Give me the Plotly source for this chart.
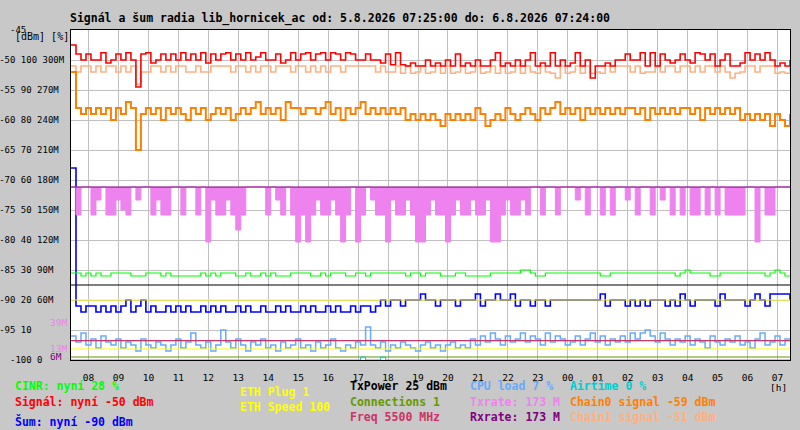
import pandas as pd
import plotly.graph_objects as go

# ---------------- data (10-minute samples, 05.08.2026 07:25 -> 06.08.2026 07:25) ----------------
START = "2026-08-05 07:25"
END = "2026-08-06 07:25"
N = 145

signal = [  # Signal [dBm]
    -47.5, -49.0, -50.0, -49.0, -50.0, -50.0, -48.8, -50.5, -50.0, -49.0,
    -50.0, -48.8, -50.0, -54.5, -49.0, -48.8, -50.5, -50.0, -49.0, -50.0,
    -49.0, -50.0, -48.8, -50.0, -49.0, -50.0, -48.8, -50.5, -49.0, -50.0,
    -49.0, -48.8, -50.0, -49.0, -50.0, -48.8, -50.0, -49.5, -48.8, -50.0,
    -50.0, -49.0, -50.5, -50.0, -48.8, -50.0, -49.0, -48.8, -50.0, -49.0,
    -48.8, -50.0, -48.8, -49.0, -50.0, -48.8, -49.0, -50.0, -50.0, -49.0,
    -50.0, -50.0, -50.5, -49.0, -50.8, -48.8, -50.8, -51.0, -50.5, -51.0,
    -51.0, -50.0, -51.0, -50.5, -51.0, -50.0, -51.0, -49.0, -51.0, -50.5,
    -51.0, -50.0, -51.0, -51.0, -50.0, -48.8, -51.0, -50.5, -51.0, -50.0,
    -51.0, -50.0, -48.8, -51.0, -50.5, -51.0, -48.8, -51.0, -50.0, -51.0,
    -50.5, -48.8, -51.0, -50.0, -53.0, -51.0, -51.0, -50.5, -51.0, -50.0,
    -50.0, -49.0, -50.0, -50.0, -48.8, -51.0, -48.8, -51.0, -49.0, -50.0,
    -50.5, -50.0, -49.0, -50.0, -50.5, -48.8, -49.0, -50.0, -49.0, -51.0,
    -50.0, -49.0, -51.0, -51.0, -50.5, -48.8, -50.0, -49.0, -50.0, -48.8,
    -50.0, -51.0, -50.5, -51.0, -50.0,
]

chain1 = [  # Chain1 signal [dBm]
    -51.0, -52.0, -51.0, -51.0, -52.0, -51.0, -52.0, -51.0, -51.0, -52.0,
    -51.0, -52.0, -51.0, -54.0, -52.0, -52.0, -51.0, -51.0, -52.0, -51.0,
    -52.0, -51.0, -51.0, -52.0, -52.0, -51.0, -52.0, -52.0, -51.0, -51.0,
    -51.0, -51.0, -52.0, -51.0, -51.0, -52.0, -51.0, -52.0, -51.0, -51.0,
    -52.0, -51.0, -51.0, -51.0, -52.0, -51.0, -51.0, -52.0, -51.0, -52.0,
    -51.0, -52.0, -51.0, -51.0, -52.0, -51.0, -51.0, -51.0, -51.0, -51.0,
    -51.0, -52.0, -51.0, -52.0, -52.0, -51.0, -52.2, -51.0, -52.2, -52.0,
    -51.0, -52.2, -52.0, -51.0, -52.2, -51.0, -52.2, -52.0, -51.0, -52.2,
    -52.0, -51.0, -52.2, -52.0, -51.0, -52.2, -51.0, -52.2, -52.0, -51.0,
    -52.2, -51.0, -52.0, -52.2, -51.0, -52.0, -52.2, -53.0, -51.0, -52.2,
    -52.0, -51.0, -52.2, -51.0, -52.2, -52.0, -52.2, -51.0, -52.0, -51.0,
    -51.0, -51.0, -52.0, -51.0, -52.2, -52.0, -52.0, -51.0, -52.0, -51.0,
    -51.0, -52.0, -51.0, -51.0, -52.0, -51.0, -52.0, -51.0, -51.0, -52.0,
    -51.0, -52.0, -53.0, -52.2, -52.0, -51.0, -51.0, -52.0, -51.0, -51.0,
    -51.0, -52.2, -52.0, -52.2, -51.0,
]

chain0 = [  # Chain0 signal [dBm]
    -52.0, -58.0, -59.0, -58.0, -59.0, -58.0, -59.0, -58.0, -60.0, -58.0,
    -59.0, -57.0, -58.0, -65.0, -59.0, -58.0, -59.0, -58.0, -60.0, -58.0,
    -59.0, -58.0, -59.0, -60.0, -58.0, -59.0, -58.0, -60.0, -59.0, -58.0,
    -59.0, -58.0, -60.0, -59.0, -58.0, -59.0, -58.0, -57.0, -59.0, -58.0,
    -59.0, -58.0, -60.0, -57.0, -58.0, -58.0, -59.0, -58.0, -58.0, -59.0,
    -58.0, -57.0, -59.0, -58.0, -60.0, -58.0, -59.0, -58.0, -57.0, -59.0,
    -58.0, -59.0, -58.0, -59.0, -58.0, -59.0, -58.0, -60.0, -59.0, -60.0,
    -59.0, -60.0, -59.0, -60.0, -61.0, -59.0, -60.0, -59.0, -60.0, -59.0,
    -60.0, -58.0, -59.0, -61.0, -60.0, -59.0, -60.0, -58.0, -59.0, -60.0,
    -59.0, -58.0, -59.0, -60.0, -58.0, -59.0, -58.0, -57.0, -59.0, -58.0,
    -59.0, -58.0, -60.0, -58.0, -59.0, -58.0, -59.0, -58.0, -59.0, -58.0,
    -59.0, -58.0, -58.0, -59.0, -58.0, -60.0, -58.0, -59.0, -58.0, -59.0,
    -58.0, -59.0, -58.0, -58.0, -59.0, -58.0, -60.0, -58.0, -59.0, -58.0,
    -59.0, -58.0, -59.0, -58.0, -60.0, -59.0, -60.0, -59.0, -60.0, -59.0,
    -61.0, -59.0, -60.0, -61.0, -59.0,
]

noise = [  # Sum (noise) [dBm]
    -68, -91, -92, -91, -91, -92, -91, -92, -91, -92,
    -91, -90, -92, -91, -90, -92, -91, -92, -92, -91,
    -92, -91, -92, -91, -92, -92, -91, -92, -91, -92,
    -91, -92, -92, -91, -92, -91, -92, -92, -91, -92,
    -92, -91, -92, -91, -92, -92, -91, -92, -91, -92,
    -92, -91, -92, -91, -92, -92, -91, -92, -91, -91,
    -92, -91, -90, -91, -90, -90, -91, -90, -90, -90,
    -89, -90, -90, -91, -90, -90, -90, -91, -90, -90,
    -90, -89, -91, -90, -90, -89, -90, -90, -89, -91,
    -90, -90, -91, -90, -90, -91, -90, -90, -90, -90,
    -90, -90, -90, -90, -90, -90, -89, -91, -90, -90,
    -90, -91, -90, -91, -90, -91, -90, -90, -90, -91,
    -90, -91, -89, -90, -91, -90, -90, -90, -90, -91,
    -89, -90, -90, -90, -90, -91, -90, -89, -90, -91,
    -89, -89, -89, -89, -90,
]

cinr = [  # CINR [%]
    29, 29, 28, 29, 28, 29, 28, 28, 29, 29,
    29, 29, 28, 28, 28, 29, 29, 29, 28, 29,
    28, 28, 28, 28, 28, 28, 29, 28, 29, 28,
    29, 29, 29, 28, 28, 29, 28, 28, 29, 28,
    29, 28, 28, 28, 29, 29, 29, 29, 28, 28,
    29, 28, 29, 29, 29, 28, 28, 29, 29, 28,
    29, 29, 29, 29, 29, 29, 29, 28, 29, 29,
    28, 29, 29, 29, 28, 28, 28, 29, 29, 28,
    28, 28, 28, 28, 29, 29, 29, 29, 29, 29,
    30, 30, 29, 28, 28, 29, 29, 29, 29, 29,
    29, 29, 29, 29, 29, 29, 28, 28, 29, 29,
    29, 29, 29, 29, 29, 29, 29, 29, 29, 29,
    29, 28, 29, 30, 29, 29, 29, 29, 28, 28,
    29, 29, 29, 29, 29, 29, 29, 29, 29, 28,
    29, 30, 29, 28, 28,
]

cpu = [  # CPU load [%]
    8, 6, 9, 5, 7, 4, 8, 6, 5, 7,
    4, 6, 5, 3, 7, 5, 4, 6, 5, 3,
    5, 7, 4, 6, 9, 5, 4, 6, 3, 5,
    10, 6, 4, 7, 5, 3, 6, 5, 7, 4,
    5, 3, 6, 4, 5, 7, 4, 5, 3, 6,
    4, 5, 7, 4, 3, 5, 4, 6, 5, 11,
    5, 4, 6, 3, 5, 4, 6, 5, 4, 3,
    5, 6, 4, 5, 3, 5, 6, 4, 5, 4,
    7, 5, 8, 6, 9, 7, 5, 8, 6, 7,
    9, 6, 8, 7, 5, 9, 6, 8, 7, 5,
    6, 8, 5, 7, 9, 6, 8, 5, 7, 6,
    8, 6, 9, 7, 9, 10, 8, 6, 9, 7,
    5, 7, 6, 8, 5, 7, 6, 4, 8, 6,
    5, 7, 6, 8, 5, 6, 4, 7, 9, 5,
    6, 8, 5, 7, 7,
]

txrate = [  # Txrate [Mbit/s]
    173, 145, 173, 173, 145, 160, 173, 145, 145, 160,
    150, 145, 173, 160, 173, 173, 145, 160, 145, 145,
    173, 173, 145, 173, 173, 145, 173, 118, 160, 145,
    145, 160, 145, 130, 145, 173, 173, 173, 173, 145,
    173, 160, 145, 173, 145, 118, 145, 118, 145, 160,
    145, 145, 160, 145, 118, 145, 173, 118, 145, 173,
    160, 145, 145, 118, 160, 145, 145, 160, 145, 118,
    118, 145, 160, 145, 145, 118, 145, 160, 145, 145,
    160, 145, 145, 160, 118, 118, 145, 160, 145, 145,
    160, 145, 173, 173, 145, 173, 173, 145, 173, 173,
    173, 160, 173, 145, 173, 173, 145, 173, 145, 173,
    173, 160, 173, 145, 173, 173, 145, 173, 160, 173,
    145, 173, 145, 173, 145, 145, 173, 145, 173, 145,
    173, 145, 145, 145, 145, 173, 173, 118, 173, 145,
    145, 173, 173, 173, 173,
]

# flat series: readings at the start and end of the period
flat_times = [START, END]
rxrate = [173, 173]          # Rxrate [Mbit/s]
txpower = [25, 25]           # TxPower [dBm]
connections = [1, 1]         # Connections
eth_plug = [1, 1]            # ETH Plug
eth_speed = [100, 100]       # ETH Speed [Mbit/s]
freq = [5500, 5500]          # Freq [MHz]

airtime_times = [START, "2026-08-05 17:05", "2026-08-05 17:15",
                 "2026-08-05 17:45", "2026-08-05 17:55", END]
airtime = [0, 1, 0, 1, 0, 0]  # Airtime [%]

y_ticks_dbm = [-45, -50, -55, -60, -65, -70, -75, -80, -85, -90, -95, -100]
y_ticks_pct = ["", "100", "90", "80", "70", "60", "50", "40", "30", "20", "10", "0"]
y_ticks_rate = ["", "300M", "270M", "240M", "210M", "180M", "150M", "120M", "90M", "60M", "", ""]

# ---------------- figure ----------------
t = pd.date_range(START, periods=N, freq="10min")

NB = "\u00a0"
ticktext = []
for d, p, r in zip(y_ticks_dbm, y_ticks_pct, y_ticks_rate):
    s = f"{d}"
    if p:
        s += " " + p
    if r:
        s += " " + r
    width = 12 if d != -45 and d != -100 else 10
    ticktext.append(s.replace(" ", NB) + NB * max(0, width - len(s)))

MONO = "DejaVu Sans Mono"
fig = go.Figure()


def step(x, y, color, axis, name, width=1.0, **kw):
    fig.add_trace(go.Scatter(x=x, y=y, mode="lines", name=name, yaxis=axis,
                             line=dict(color=color, width=width, shape="hv"),
                             hoverinfo="skip", **kw))


step(flat_times, rxrate, "#800080", "y3", "rx_base", width=0.1)
step(t, txrate, "#ee82ee", "y3", "Txrate", width=1, fill="tonexty", fillcolor="#ee82ee")
step(flat_times, rxrate, "#800080", "y3", "Rxrate", width=1.2)
step(t, cinr, "#00ff00", "y2", "CINR", width=1.2)
step(flat_times, txpower, "#000000", "y2", "TxPower", width=1.2)
step(t, noise, "#0000ff", "y", "Sum", width=1.6)
step(flat_times, eth_plug, "#ffff00", "y4", "ETH Plug", width=1.2)
step(t, cpu, "#66aaff", "y2", "CPU", width=1.5)
step(flat_times, freq, "#cc3366", "y6", "Freq", width=1.2)
step(flat_times, eth_speed, "#ffff00", "y5", "ETH Speed", width=1.2)
step(flat_times, connections, "#669900", "y2", "Connections", width=1.2)
step(airtime_times, airtime, "#00cccc", "y2", "Airtime", width=1)
step(t, chain1, "#ffb080", "y", "Chain1", width=1.6)
step(t, signal, "#ff0000", "y", "Signal", width=1.6)
step(t, chain0, "#ff8000", "y", "Chain0", width=2)

L, R, T, B = 71, 790, 30, 360


def px(x):
    return (x - L) / (R - L)


def py(y):
    return (B - y) / (B - T)


ann = []


def text(s, x, y, color="#000000", size=11.5, bold=True):
    ann.append(dict(text=f"<b>{s}</b>" if bold else s, x=px(x), y=py(y), xref="paper", yref="paper",
                    xanchor="left", yanchor="middle", showarrow=False, borderpad=0,
                    font=dict(family=MONO, size=size, color=color)))


text("Signál a šum radia lib_hornicek_ac od: 5.8.2026 07:25:00 do: 6.8.2026 07:24:00", 69, 19)
text("[dBm]" + NB + "[%]", 14, 36, size=10, bold=False)
text("39M", 49, 322, "#ee82ee", size=9.5, bold=False)
text("13M", 49, 348, "#ee82ee", size=9.5, bold=False)
text("6M", 49, 356, "#800080", size=9.5, bold=False)
text("[h]", 769, 387, size=9.5, bold=False)

legend = [
    ("CINR: nyní 28 %", 14, 386, "#00ff00"),
    ("Signál: nyní -50 dBm", 14, 402, "#ff0000"),
    ("Šum: nyní -90 dBm", 14, 421, "#0000ff"),
    ("ETH Plug 1", 239, 392, "#ffff00"),
    ("ETH Speed 100", 239, 407, "#ffff00"),
    ("TxPower 25 dBm", 349, 386, "#000000"),
    ("Connections 1", 349, 402, "#669900"),
    ("Freq 5500 MHz", 349, 417, "#cc3366"),
    ("CPU load 7 %", 469, 386, "#66aaff"),
    ("Txrate: 173 M", 469, 402, "#ee82ee"),
    ("Rxrate: 173 M", 469, 417, "#800080"),
    ("Airtime 0 %", 569, 386, "#00cccc"),
    ("Chain0 signal -59 dBm", 569, 402, "#ff8000"),
    ("Chain1 signal -51 dBm", 569, 417, "#ffb080"),
]
for s, x, y, c in legend:
    text(s.replace(" ", NB), x, y, c)

hidden = dict(overlaying="y", visible=False, showgrid=False, zeroline=False, fixedrange=True)

fig.update_layout(
    width=800, height=430,
    margin=dict(l=L, r=800 - R, t=T, b=430 - B, pad=0, autoexpand=False),
    paper_bgcolor="#c8c8c8", plot_bgcolor="#ffffff",
    showlegend=False,
    font=dict(family=MONO, size=9, color="#000000"),
    annotations=ann,
    xaxis=dict(type="date", range=[START, END], tick0="2026-08-05 08:00", dtick=3600000,
               tickformat="%H", showgrid=True, gridcolor="#c0c0c0", gridwidth=1,
               showline=True, linecolor="#000000", linewidth=1, mirror=True,
               ticks="", ticklabelstandoff=9, zeroline=False, automargin=False,
               tickfont=dict(family=MONO, size=9.5, color="#000000")),
    yaxis=dict(range=[-100, -45], tickvals=y_ticks_dbm, ticktext=ticktext,
               showgrid=True, gridcolor="#c0c0c0", gridwidth=1, zeroline=False,
               showline=True, linecolor="#000000", linewidth=1, mirror=True,
               ticks="", ticklabelstandoff=4, automargin=False,
               tickfont=dict(family=MONO, size=9, color="#000000")),
    yaxis2=dict(range=[0, 110], **hidden),
    yaxis3=dict(range=[0, 330], **hidden),
    yaxis4=dict(range=[0, 5.5], **hidden),
    yaxis5=dict(range=[0, 3000], **hidden),
    yaxis6=dict(range=[0, 94000], **hidden),
)

fig.write_html("out.html", config={"displayModeBar": False},
               post_script="document.body.style.margin='0px';document.body.style.overflow='hidden';")
